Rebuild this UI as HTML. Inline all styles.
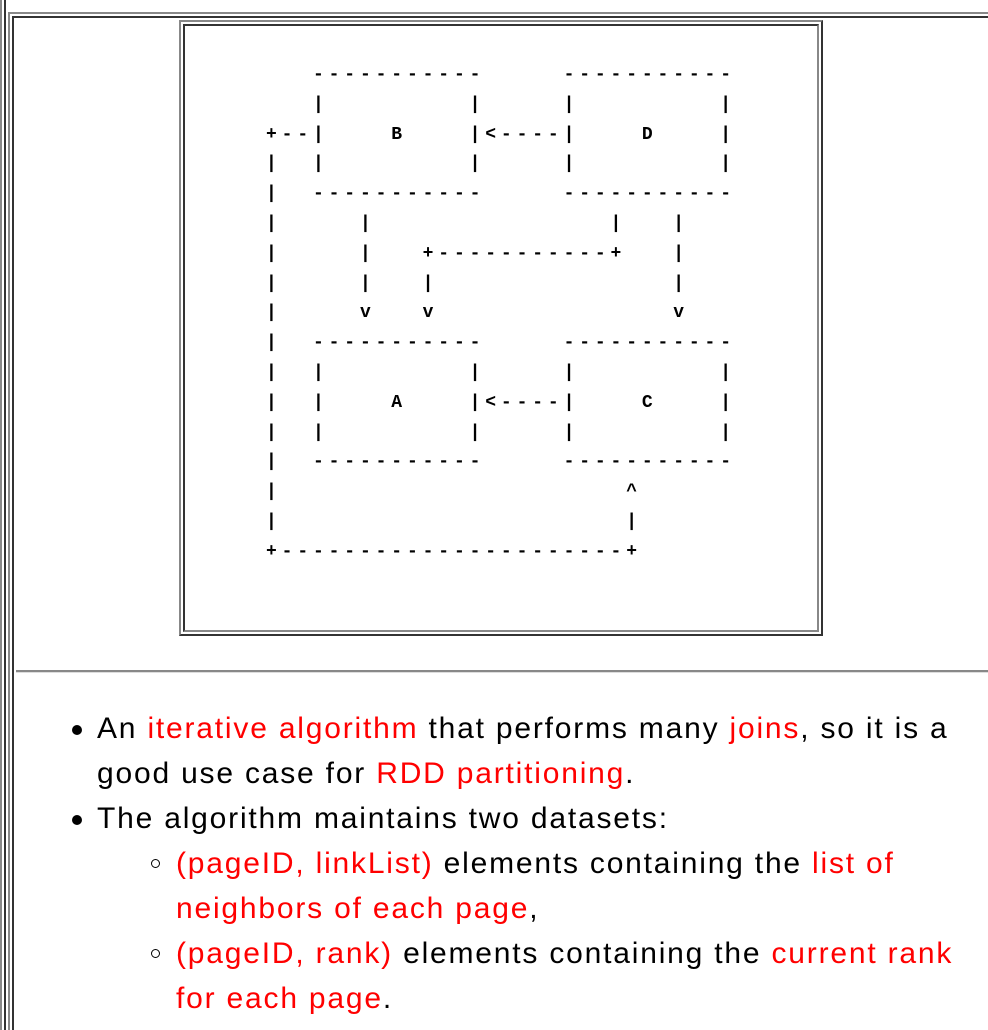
<!DOCTYPE html>
<html><head><meta charset="utf-8"><style>
body{margin:0;width:988px;height:1030px;background:#fff;position:relative;overflow:hidden;font-family:"Liberation Sans",sans-serif}
.l{position:absolute}
pre{position:absolute;left:266px;top:61px;margin:0;font-family:"Liberation Mono",monospace;font-size:18px;font-weight:bold;letter-spacing:4.86px;line-height:29.8px;color:#000}
ul{margin:0;padding:0;list-style:none}
.txt{position:absolute;left:97px;top:706px;width:865px;font-size:30px;letter-spacing:1.8px;line-height:45px;color:#000}
.r{color:#f00}
li{position:relative}
.b1::before{content:"";position:absolute;left:-25px;top:19px;width:10px;height:10px;border-radius:50%;background:#000}
.sub{padding-left:79px}
.b2::before{content:"";position:absolute;left:-25px;top:18px;width:9px;height:9px;border-radius:50%;border:1.5px solid #000;box-sizing:border-box}
</style></head><body>
<div class="l" style="left:0;top:0;width:2px;height:1030px;background:#888"></div>
<div class="l" style="left:4px;top:0;width:2px;height:1030px;background:#333"></div>
<div class="l" style="left:8px;top:12px;width:2px;height:1018px;background:#888"></div>
<div class="l" style="left:12px;top:16px;width:2px;height:1014px;background:#333"></div>
<div class="l" style="left:8px;top:12px;width:980px;height:2px;background:#888"></div>
<div class="l" style="left:12px;top:16px;width:976px;height:2px;background:#333"></div>
<div class="l" style="left:179px;top:20px;width:640px;height:612px;border:2px solid #888;border-bottom-color:#333;border-right-color:#333"></div>
<div class="l" style="left:183px;top:24px;width:632px;height:604px;border:2px solid #333;border-bottom-color:#888;border-right-color:#888"></div>
<pre>   -----------     -----------
   |         |     |         |
+--|    B    |<----|    D    |
|  |         |     |         |
|  -----------     -----------
|     |               |   |
|     |   +-----------+   |
|     |   |               |
|     v   v               v
|  -----------     -----------
|  |         |     |         |
|  |    A    |<----|    C    |
|  |         |     |         |
|  -----------     -----------
|                      ^
|                      |
+----------------------+</pre>
<div class="l" style="left:16px;top:670px;width:972px;height:2px;background:#888;border-bottom:1px solid #ddd"></div>
<div class="txt">
<ul>
<li class="b1">An <span class="r">iterative algorithm</span> that performs many <span class="r">joins</span>, so it is a good use case for <span class="r">RDD partitioning</span>.</li>
<li class="b1">The algorithm maintains two datasets:</li>
</ul>
<ul class="sub">
<li class="b2"><span class="r">(pageID, linkList)</span> elements containing the <span class="r">list of neighbors of each page</span>,</li>
<li class="b2"><span class="r">(pageID, rank)</span> elements containing the <span class="r">current rank for each page</span>.</li>
</ul>
</div>
</body></html>
